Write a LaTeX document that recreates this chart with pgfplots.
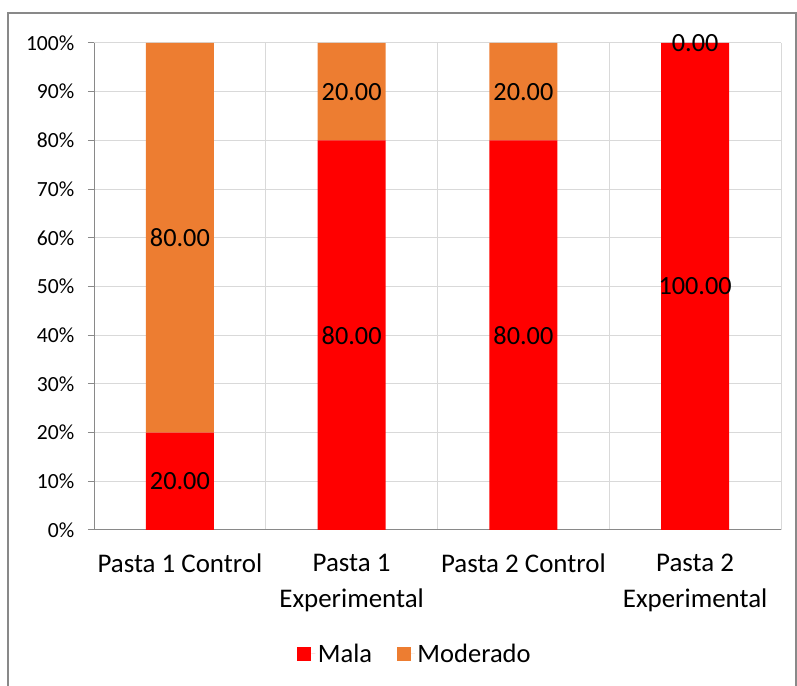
\documentclass[border=0pt]{standalone}
\usepackage{fontspec}
\setmainfont{Carlito}
\usepackage{pgfplots}
\pgfplotsset{compat=1.18}
\definecolor{mala}{HTML}{FF0000}
\definecolor{mod}{HTML}{ED7D31}
\definecolor{gridc}{HTML}{D9D9D9}
\definecolor{axc}{HTML}{898989}
\begin{document}
\begin{tikzpicture}[x=0.75pt,y=0.75pt]
\path[use as bounding box] (0,0) rectangle (797,686);
\draw[axc, line width=0.9pt] (8,0) -- (8,673) -- (796,673) -- (796,0);
\begin{axis}[
  at={(70.5pt,117pt)}, anchor=south west,
  scale only axis, width=515.25pt, height=365.25pt,
  ybar stacked, bar width=51pt,
  xmin=-0.5, xmax=3.5, ymin=0, ymax=100,
  xtick={0,1,2,3},
  xticklabels={{Pasta 1 Control},{Pasta 1\\Experimental},{Pasta 2 Control},{Pasta 2\\Experimental}},
  xticklabel style={align=center, font={\fontsize{20.2}{27}\selectfont}, yshift=-9.75pt},
  minor xtick={0.5,1.5,2.5,3.5},
  xminorgrids, ymajorgrids,
  major grid style={gridc, line width=0.75pt},
  minor grid style={gridc, line width=0.75pt},
  ytick={0,10,...,100},
  yticklabels={0\%,10\%,20\%,30\%,40\%,50\%,60\%,70\%,80\%,90\%,100\%},
  yticklabel style={font={\fontsize{16.2}{19}\selectfont}, xshift=-6.75pt},
  axis x line*=bottom, axis y line*=left,
  axis line style={axc, line width=0.75pt, -},
  xtick style={draw=none},
  minor x tick style={draw=none},
  ytick style={axc, line width=0.75pt},
  tick align=outside, major tick length=4.5pt,
  legend style={at={(0.4677,-0.2546)}, anchor=center, legend columns=2, draw=none,
    font={\fontsize{19.9}{23}\selectfont},
    /tikz/every even column/.append style={column sep=16.5pt}},
  every axis plot post/.append style={legend image code/.code={\fill[##1] (0pt,-5.25pt) rectangle (10.5pt,5.25pt); \path (10.5pt,0pt) -- (13.5pt,0pt);}},
]
\addplot[fill=mala, draw=none] coordinates {(0,20) (1,80) (2,80) (3,100)};
\addlegendentry{Mala}
\addplot[fill=mod, draw=none] coordinates {(0,80) (1,20) (2,20) (3,0)};
\addlegendentry{Moderado}
\end{axis}
\begin{axis}[
  at={(70.5pt,117pt)}, anchor=south west,
  scale only axis, width=515.25pt, height=365.25pt,
  xmin=-0.5, xmax=3.5, ymin=0, ymax=100,
  hide axis, clip=false,
]
\addplot[draw=none, mark=none, nodes near coords, point meta=explicit symbolic,
  nodes near coords style={anchor=center, font={\fontsize{19.7}{22}\selectfont}, text=black}]
  coordinates {(0,10)[20.00] (0,60)[80.00] (1,40)[80.00] (1,90)[20.00] (2,40)[80.00] (2,90)[20.00] (3,50)[100.00] (3,100)[0.00]};
\end{axis}
\end{tikzpicture}
\end{document}
